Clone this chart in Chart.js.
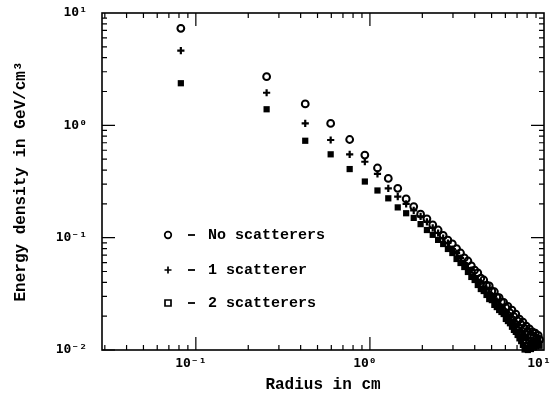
<!DOCTYPE html>
<html>
<head>
<meta charset="utf-8">
<script src="https://cdn.jsdelivr.net/npm/chart.js@4.4.0/dist/chart.umd.min.js"></script>
<style>
  html, body { margin: 0; padding: 0; background: #fff; }
  canvas { display: block; }
</style>
</head>
<body>
<canvas id="c" width="553" height="393"></canvas>
<script>
// ---- data ----
const radius = [0.082, 0.255, 0.425, 0.595, 0.765, 0.935, 1.105, 1.275, 1.445, 1.615, 1.785, 1.955,
  2.125, 2.295, 2.465, 2.635, 2.805, 2.975, 3.145, 3.315, 3.485, 3.655, 3.825, 3.995, 4.165, 4.335,
  4.505, 4.675, 4.845, 5.015, 5.185, 5.355, 5.525, 5.695, 5.865, 6.035, 6.205, 6.375, 6.545, 6.715,
  6.885, 7.055, 7.225, 7.395, 7.565, 7.735, 7.905, 8.075, 8.245, 8.415, 8.585, 8.755, 8.925, 9.095,
  9.265, 9.435];

const noScatterers = [7.31, 2.71, 1.55, 1.04, 0.748, 0.544, 0.417, 0.337, 0.275, 0.221, 0.189, 0.162,
  0.147, 0.130, 0.117, 0.105, 0.095, 0.088, 0.080, 0.0730, 0.0660, 0.0620, 0.0560, 0.0515, 0.0485, 0.0436,
  0.0420, 0.0378, 0.0372, 0.0335, 0.0330, 0.0296, 0.0292, 0.0268, 0.0265, 0.0238, 0.0244, 0.0214, 0.0226, 0.0198,
  0.0209, 0.0182, 0.0188, 0.0168, 0.0177, 0.0155, 0.0163, 0.0146, 0.0154, 0.0137, 0.0145, 0.0132, 0.0141, 0.0127,
  0.0135, 0.0124];

const oneScatterer = [4.62, 1.95, 1.04, 0.740, 0.552, 0.474, 0.369, 0.275, 0.232, 0.200, 0.175, 0.155,
  0.138, 0.122, 0.110, 0.0993, 0.0896, 0.0793, 0.0730, 0.0659, 0.0595, 0.0537, 0.0515, 0.0456, 0.0420, 0.0403,
  0.0364, 0.0349, 0.0322, 0.0302, 0.0279, 0.0273, 0.0252, 0.0241, 0.0222, 0.0218, 0.0201, 0.0197, 0.0177, 0.0181,
  0.0164, 0.0167, 0.0151, 0.0148, 0.0136, 0.0133, 0.0123, 0.0128, 0.0115, 0.0120, 0.0111, 0.0115, 0.0106, 0.0113,
  0.0109, 0.0118];

const twoScatterers = [2.37, 1.39, 0.729, 0.552, 0.408, 0.316, 0.263, 0.224, 0.186, 0.165, 0.150, 0.132,
  0.117, 0.106, 0.0955, 0.0878, 0.0793, 0.0730, 0.0646, 0.0595, 0.0548, 0.0495, 0.0447, 0.0420, 0.0379, 0.0349,
  0.0335, 0.0309, 0.0284, 0.0278, 0.0252, 0.0241, 0.0227, 0.0218, 0.0209, 0.0189, 0.0181, 0.0173, 0.0161, 0.0151,
  0.0145, 0.0136, 0.0127, 0.0120, 0.0111, 0.0101, 0.0104, 0.0100, 0.0109, 0.0102, 0.0116, 0.0107, 0.0121, 0.0111,
  0.0123, 0.0109];

const seriesLabels = ['No scatterers', '1 scatterer', '2 scatterers'];
const xTickValues = [0.1, 1, 10];
const xTickLabels = ['10\u207B\u00B9', '10\u2070', '10\u00B9'];
const yTickValues = [0.01, 0.1, 1, 10];
const yTickLabels = ['10\u207B\u00B2', '10\u207B\u00B9', '10\u2070', '10\u00B9'];
const xTitle = 'Radius in cm';
const yTitle = 'Energy density in GeV/cm\u00B3';

const pts = ys => radius.map((r, i) => ({ x: r, y: ys[i] }));

const TXT = "'Liberation Mono', 'DejaVu Sans Mono', monospace";
const TICKF = "'DejaVu Sans Mono', monospace";

const bgPlugin = {
  id: 'bg',
  beforeDraw(chart) {
    const ctx = chart.ctx;
    ctx.save();
    ctx.fillStyle = '#fff';
    ctx.fillRect(0, 0, chart.width, chart.height);
    ctx.restore();
  }
};

const framePlugin = {
  id: 'frame',
  beforeDatasetsDraw(chart) {
    const { ctx, chartArea: a, scales: { x, y } } = chart;
    ctx.save();
    ctx.strokeStyle = '#000';
    ctx.lineWidth = 1.6;
    ctx.strokeRect(a.left, a.top, a.right - a.left, a.bottom - a.top);
    ctx.lineWidth = 1.2;
    ctx.beginPath();
    const decades = [0.01, 0.1, 1];
    decades.forEach(d => {
      for (let m = 1; m <= 9; m++) {
        const v = d * m;
        if (v < x.min || v > x.max) continue;
        const px = x.getPixelForValue(v);
        const len = m === 1 ? 13 : 5;
        ctx.moveTo(px, a.bottom); ctx.lineTo(px, a.bottom - len);
        ctx.moveTo(px, a.top); ctx.lineTo(px, a.top + len);
      }
    });
    decades.forEach(d => {
      for (let m = 1; m <= 9; m++) {
        const v = d * m;
        if (v < y.min || v > y.max) continue;
        const py = y.getPixelForValue(v);
        const len = m === 1 ? 13 : 5;
        ctx.moveTo(a.left, py); ctx.lineTo(a.left + len, py);
        ctx.moveTo(a.right, py); ctx.lineTo(a.right - len, py);
      }
    });
    ctx.stroke();
    ctx.restore();
  }
};

const legendPlugin = {
  id: 'innerLegend',
  afterDraw(chart) {
    const ctx = chart.ctx;
    const mx = 168, dashX = 188, textX = 208;
    const rows = [235, 270, 303];
    ctx.save();
    ctx.strokeStyle = '#000';
    ctx.fillStyle = '#000';
    ctx.font = 'bold 15px ' + TXT;
    ctx.textBaseline = 'middle';
    ctx.textAlign = 'left';
    chart.data.datasets.forEach((ds, i) => {
      const yy = rows[i];
      ctx.lineWidth = 1.7;
      ctx.beginPath();
      if (i === 0) {
        ctx.arc(mx, yy, 3.3, 0, Math.PI * 2);
      } else if (i === 1) {
        ctx.moveTo(mx - 3.5, yy); ctx.lineTo(mx + 3.5, yy);
        ctx.moveTo(mx, yy - 3.5); ctx.lineTo(mx, yy + 3.5);
      } else {
        ctx.rect(mx - 3, yy - 3, 6, 6);
      }
      ctx.stroke();
      ctx.lineWidth = 1.8;
      ctx.beginPath();
      ctx.moveTo(dashX, yy); ctx.lineTo(dashX + 7, yy);
      ctx.stroke();
      ctx.fillText(ds.label, textX, yy);
    });
    ctx.restore();
  }
};

new Chart(document.getElementById('c'), {
  type: 'scatter',
  data: {
    datasets: [
      { label: seriesLabels[0], data: pts(noScatterers), pointStyle: 'circle', pointRadius: 3.4,
        borderWidth: 2, borderColor: '#000', backgroundColor: 'rgba(0,0,0,0)', clip: 5 },
      { label: seriesLabels[1], data: pts(oneScatterer), pointStyle: 'cross', pointRadius: 3.6,
        borderWidth: 2.2, borderColor: '#000', backgroundColor: '#000', clip: 5 },
      { label: seriesLabels[2], data: pts(twoScatterers), pointStyle: 'rect', pointRadius: 4.4,
        borderWidth: 0, borderColor: '#000', backgroundColor: '#000', clip: 5 }
    ]
  },
  options: {
    responsive: false,
    animation: false,
    devicePixelRatio: 1,
    layout: { padding: { left: 0, right: 9, top: 13, bottom: 0 } },
    plugins: { legend: { display: false }, tooltip: { enabled: false } },
    scales: {
      x: {
        type: 'logarithmic',
        min: 0.0289,
        max: 10,
        afterBuildTicks: s => { s.ticks = xTickValues.map(v => ({ value: v })); },
        afterFit: s => { s.height = 43; s.paddingLeft = 0; s.paddingRight = 0; s.paddingTop = 0; s.paddingBottom = 0; },
        grid: { display: false, drawTicks: false },
        border: { display: false },
        ticks: {
          autoSkip: false, maxRotation: 0, minRotation: 0,
          padding: 6, labelOffset: -5, color: '#000',
          font: { family: TICKF, size: 13, weight: 'bold' },
          callback: v => { const i = xTickValues.indexOf(v); return i >= 0 ? xTickLabels[i] : ''; }
        },
        title: {
          display: true, text: xTitle, color: '#000',
          padding: { top: 0, bottom: 0 },
          font: { family: TXT, size: 16, weight: 'bold', lineHeight: 1 }
        }
      },
      y: {
        type: 'logarithmic',
        min: 0.01,
        max: 10,
        afterBuildTicks: s => { s.ticks = yTickValues.map(v => ({ value: v })); },
        afterFit: s => { s.width = 102; s.paddingLeft = 0; s.paddingRight = 0; s.paddingTop = 0; s.paddingBottom = 0; },
        grid: { display: false, drawTicks: false },
        border: { display: false },
        ticks: {
          autoSkip: false, padding: 15, color: '#000',
          font: { family: TICKF, size: 13, weight: 'bold' },
          callback: v => { const i = yTickValues.indexOf(v); return i >= 0 ? yTickLabels[i] : ''; }
        },
        title: {
          display: true, text: yTitle, color: '#000',
          padding: { top: 13, bottom: 0 },
          font: { family: TXT, size: 16, weight: 'bold', lineHeight: 1 }
        }
      }
    }
  },
  plugins: [bgPlugin, framePlugin, legendPlugin]
});
</script>
</body>
</html>
